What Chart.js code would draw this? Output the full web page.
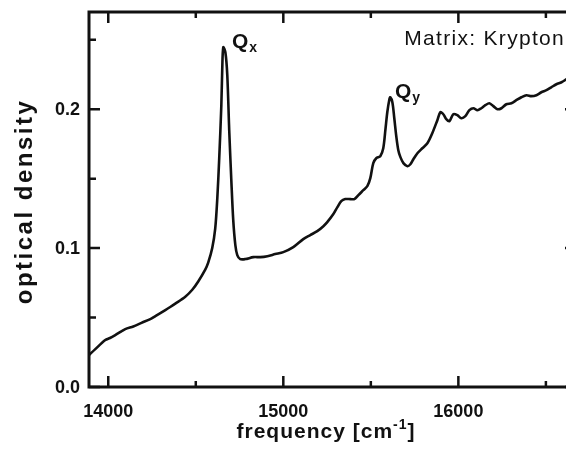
<!doctype html>
<html lang="en">
<head>
<meta charset="utf-8">
<title>Optical density in a krypton matrix</title>
<style>
  html, body {
    margin: 0;
    padding: 0;
    overflow: hidden;
    background: #fff;
  }
  .chartBox {
    width: 578px;
    height: 458px;
  }
</style>
</head>
<body>
<div class="chartBox">
  <canvas id="myChart" width="578" height="458"></canvas>
</div>
<script src="https://cdn.jsdelivr.net/npm/chart.js/dist/chart.umd.min.js"></script>
<script>
// spectrum: frequency in cm-1, optical density
const frequency = [
  13890, 13926, 13983, 14010, 14040, 14097, 14143, 14190, 14240, 14269,
  14326, 14354, 14383, 14440, 14480, 14514, 14554, 14571, 14594, 14611,
  14623, 14634, 14646, 14651, 14657, 14669, 14680, 14691, 14703, 14714,
  14726, 14737, 14754, 14783, 14829, 14869, 14909, 14954, 15000, 15057,
  15114, 15154, 15194, 15229, 15251, 15286, 15309, 15331, 15354, 15383,
  15406, 15429, 15457, 15480, 15497, 15514, 15531, 15554, 15571, 15583,
  15594, 15606, 15611, 15623, 15634, 15646, 15657, 15669, 15686, 15709,
  15726, 15743, 15766, 15794, 15823, 15851, 15880, 15897, 15914, 15931,
  15949, 15971, 15994, 16017, 16040, 16063, 16086, 16109, 16131, 16154,
  16177, 16200, 16223, 16246, 16274, 16303, 16331, 16360, 16389, 16417,
  16446, 16474, 16503, 16531, 16560, 16589, 16617
];
const density = [
  0.0230, 0.0273, 0.0338, 0.0353, 0.0374, 0.0417, 0.0436, 0.0462, 0.0489, 0.0511,
  0.0554, 0.0576, 0.0600, 0.0650, 0.0700, 0.0760, 0.0845, 0.0895, 0.1000, 0.1140,
  0.1360, 0.1650, 0.2029, 0.2281, 0.2446, 0.2410, 0.2245, 0.1849, 0.1489, 0.1201,
  0.1022, 0.0950, 0.0921, 0.0921, 0.0935, 0.0935, 0.0942, 0.0957, 0.0971, 0.1007,
  0.1065, 0.1094, 0.1122, 0.1158, 0.1187, 0.1245, 0.1295, 0.1338, 0.1353, 0.1353,
  0.1353, 0.1381, 0.1417, 0.1446, 0.1504, 0.1612, 0.1647, 0.1662, 0.1719, 0.1849,
  0.1978, 0.2072, 0.2086, 0.2050, 0.1935, 0.1799, 0.1705, 0.1655, 0.1612, 0.1590,
  0.1604, 0.1640, 0.1683, 0.1719, 0.1755, 0.1827, 0.1921, 0.1978, 0.1964, 0.1928,
  0.1914, 0.1964, 0.1957, 0.1935, 0.1950, 0.1993, 0.2007, 0.1993, 0.2007, 0.2029,
  0.2043, 0.2022, 0.2000, 0.2007, 0.2036, 0.2043, 0.2065, 0.2086, 0.2101, 0.2094,
  0.2101, 0.2122, 0.2137, 0.2158, 0.2180, 0.2194, 0.2216
];

const xMajorTicks = [14000, 15000, 16000];
const xMinorTicks = [14500, 15500, 16500];
const yMajorTicks = [0.0, 0.1, 0.2];
const yMinorTicks = [0.05, 0.15, 0.25];

// peak names, anchored at their place in data units
const peakNames = ['Q', 'Q'];
const peakSubs = ['x', 'y'];
const peakFreq = [14707, 15638];
const peakOd = [0.2439, 0.2079];

const matrixNote = 'Matrix: Krypton';
const xTitle = 'frequency [cm';
const xTitleSup = '-1';
const yTitle = 'optical density';

const ink = '#111';
const face = '"Liberation Sans", Arial, Helvetica, sans-serif';

// frame, inward ticks and all the lettering
const framePlugin = {
  id: 'frame',
  afterDraw(chart) {
    const ctx = chart.ctx;
    const a = chart.chartArea;
    const x = chart.scales.x;
    const y = chart.scales.y;
    ctx.save();
    ctx.strokeStyle = ink;
    ctx.fillStyle = ink;
    ctx.lineWidth = 3;
    ctx.strokeRect(a.left, a.top, a.right - a.left, a.bottom - a.top);

    ctx.lineWidth = 2.5;
    const xTick = (v, len) => {
      const px = x.getPixelForValue(v);
      ctx.beginPath();
      ctx.moveTo(px, a.bottom); ctx.lineTo(px, a.bottom - len);
      ctx.moveTo(px, a.top); ctx.lineTo(px, a.top + len);
      ctx.stroke();
    };
    const yTick = (v, len) => {
      const py = y.getPixelForValue(v);
      ctx.beginPath();
      ctx.moveTo(a.left, py); ctx.lineTo(a.left + len, py);
      ctx.moveTo(a.right, py); ctx.lineTo(a.right - len, py);
      ctx.stroke();
    };
    xMajorTicks.forEach(v => xTick(v, 11));
    xMinorTicks.forEach(v => xTick(v, 6));
    yMajorTicks.forEach(v => yTick(v, 11));
    yMinorTicks.forEach(v => yTick(v, 7));

    // tick labels
    ctx.font = 'bold 18px ' + face;
    ctx.textAlign = 'center';
    ctx.textBaseline = 'alphabetic';
    xMajorTicks.forEach(v => {
      ctx.fillText(String(v), x.getPixelForValue(v), a.bottom + 30);
    });
    ctx.textAlign = 'right';
    ctx.textBaseline = 'middle';
    yMajorTicks.forEach(v => {
      ctx.fillText(v.toFixed(1), a.left - 9, y.getPixelForValue(v) + 1);
    });

    // x title with superscript
    ctx.textBaseline = 'alphabetic';
    ctx.textAlign = 'left';
    ctx.letterSpacing = '1px';
    ctx.font = 'bold 21px ' + face;
    const w1 = ctx.measureText(xTitle).width;
    const w3 = ctx.measureText(']').width;
    ctx.font = 'bold 14px ' + face;
    const w2 = ctx.measureText(xTitleSup).width;
    const tx = a.left + 237 - (w1 + w2 + w3) / 2;
    const base = a.bottom + 51;
    ctx.font = 'bold 21px ' + face;
    ctx.fillText(xTitle, tx, base);
    ctx.font = 'bold 14px ' + face;
    ctx.fillText(xTitleSup, tx + w1, base - 9);
    ctx.font = 'bold 21px ' + face;
    ctx.fillText(']', tx + w1 + w2, base);

    // y title
    ctx.save();
    ctx.translate(32, (a.top + a.bottom) / 2 + 2);
    ctx.rotate(-Math.PI / 2);
    ctx.textAlign = 'center';
    ctx.letterSpacing = '2.5px';
    ctx.font = 'bold 24px ' + face;
    ctx.fillText(yTitle, 0, 0);
    ctx.restore();

    // note in the corner
    ctx.letterSpacing = '1.3px';
    ctx.font = '21px ' + face;
    ctx.textAlign = 'right';
    ctx.fillText(matrixNote, 565, a.top + 33);

    // peak names
    ctx.letterSpacing = '0px';
    ctx.textAlign = 'left';
    peakNames.forEach((name, i) => {
      const px = x.getPixelForValue(peakFreq[i]);
      const py = y.getPixelForValue(peakOd[i]);
      ctx.font = 'bold 21px ' + face;
      ctx.fillText(name, px, py);
      const wq = ctx.measureText(name).width;
      ctx.font = 'bold 14px ' + face;
      ctx.fillText(peakSubs[i], px + wq + 1, py + 4);
    });
    ctx.restore();
  }
};

const points = frequency.map((f, i) => ({ x: f, y: density[i] }));

new Chart(document.getElementById('myChart'), {
  type: 'line',
  data: {
    datasets: [{
      data: points,
      borderColor: ink,
      borderWidth: 2.6,
      pointRadius: 0,
      tension: 0.3,
      fill: false
    }]
  },
  options: {
    responsive: false,
    animation: false,
    devicePixelRatio: 1,
    layout: { padding: { left: 89, top: 12, right: 2, bottom: 71 } },
    plugins: {
      legend: { display: false },
      tooltip: { enabled: false }
    },
    scales: {
      x: { type: 'linear', min: 13890, max: 16672, display: false },
      y: { type: 'linear', min: 0, max: 0.27, display: false }
    }
  },
  plugins: [framePlugin]
});
</script>
</body>
</html>
